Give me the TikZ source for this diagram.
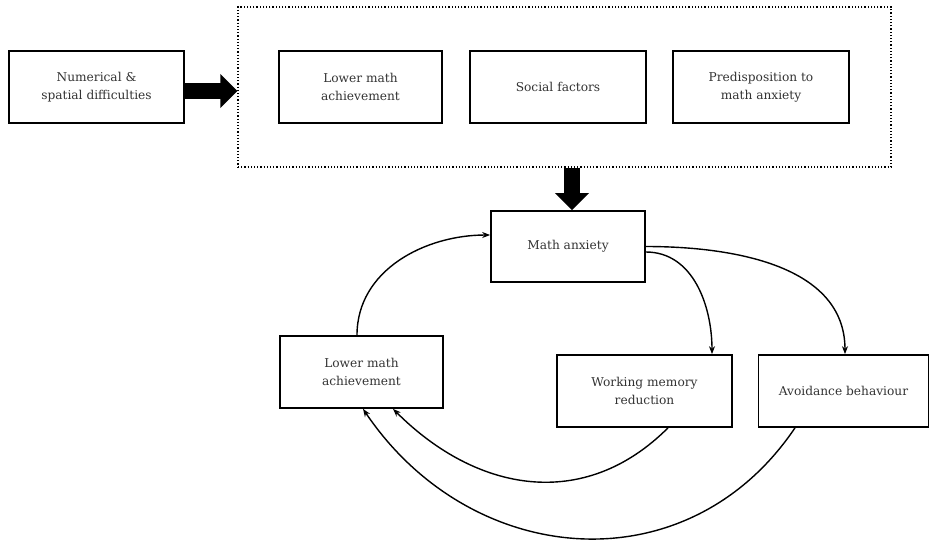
\documentclass[tikz,border=0pt]{standalone}
\usepackage{fontspec}
\setmainfont{DejaVu Serif}
\usetikzlibrary{arrows.meta}

\begin{document}
\begin{tikzpicture}[x=1pt, y=-1pt,
    box/.style = {draw, line width=1.7pt, align=center, minimum height=72pt,
                  font=\fontsize{12.2}{18}\selectfont, text=black!80},
    link/.style = {-{Stealth[length=8pt,width=6pt]}, line width=1.4pt},
    fat/.style = {-{Triangle[length=17pt,width=33pt]}, line width=16pt}]
    \useasboundingbox (0,0) rectangle (930,539);

    \node (num) [box, minimum width=175pt] at (96.5,87) {Numerical \&\\spatial difficulties};
    \node (group) [draw, dotted, line width=1.2pt, minimum width=653pt, minimum height=160pt] at (564.5,87) {};
    \node (low1) [box, minimum width=163pt] at (360.5,87) {Lower math\\achievement};
    \node (soc) [box, minimum width=176pt] at (558,87) {Social factors};
    \node (pre) [box, minimum width=176pt] at (761,87) {Predisposition to\\math anxiety};

    \node (anx) [box, minimum width=154pt, minimum height=71pt] at (568,246.5) {Math anxiety};
    \node (low2) [box, minimum width=163pt] at (361.5,372) {Lower math\\achievement};
    \node (wm) [box, minimum width=175pt] at (644.5,391) {Working memory\\reduction};
    \node (avo) [box, minimum width=170pt] at (843.5,391) {Avoidance behaviour};

    \draw[fat] ([yshift=-4pt]num.east) -- ([yshift=-4pt]group.west);
    \draw[fat] ([xshift=4pt]anx.north |- group.south) -- ([xshift=4pt]anx.north);

    \draw[link] ([xshift=-4.5pt]low2.north) to[out=90, in=180] ([yshift=11.5pt]anx.west);
    \draw[link] (anx.east) to[out=0, in=90] ([xshift=1.5pt]avo.north);
    \draw[link] ([yshift=-5.5pt]anx.east) to[out=0, in=90] ([xshift=67.5pt]wm.north);
    \draw[link] ([xshift=23.5pt]wm.south) to[out=-135, in=-45, looseness=1.1] ([xshift=31.5pt]low2.south);
    \draw[link] ([xshift=-48.5pt]avo.south) to[out=-124, in=-56, looseness=1.14] ([xshift=1.5pt]low2.south);
\end{tikzpicture}
\end{document}
